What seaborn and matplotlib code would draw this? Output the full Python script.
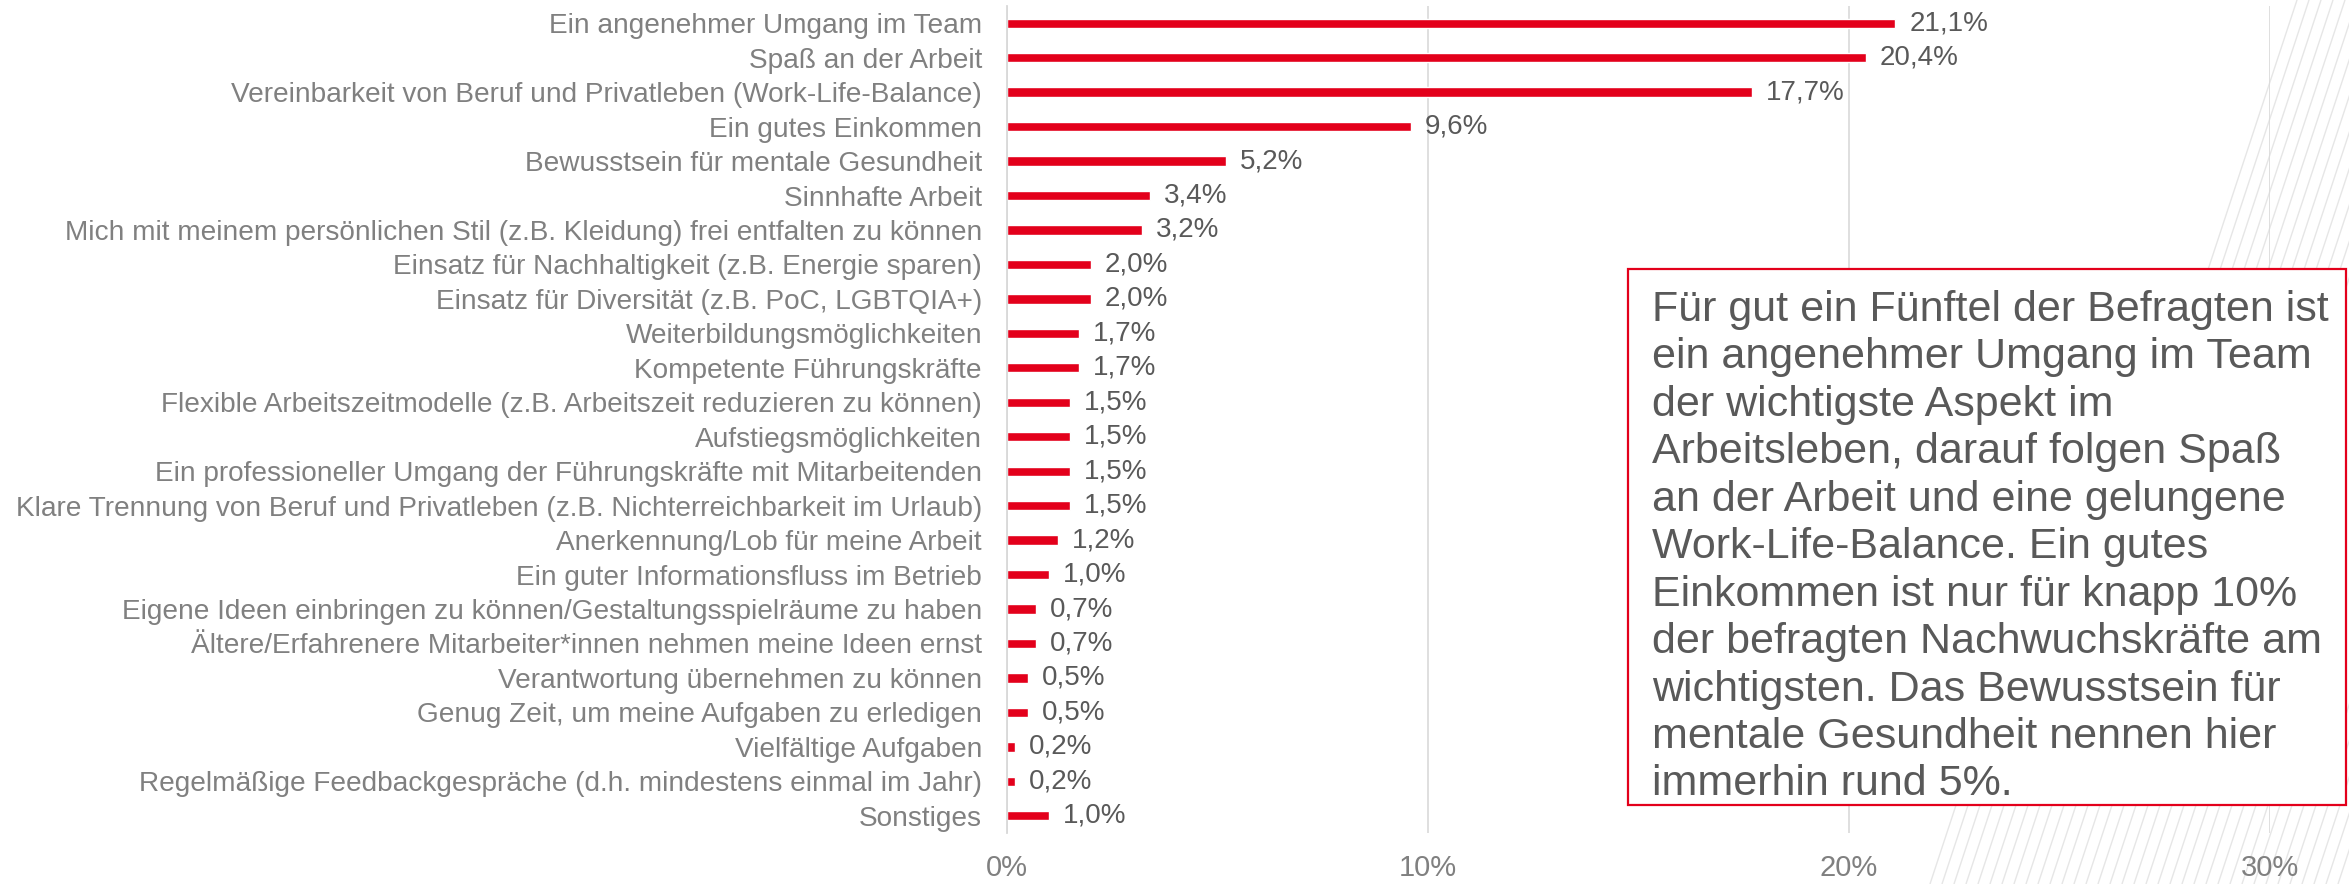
import pandas as pd
import matplotlib.pyplot as plt
import seaborn as sns
from matplotlib.lines import Line2D
from matplotlib.patches import Rectangle

# Data
categories = [
    'Ein angenehmer Umgang im Team',
    'Spaß an der Arbeit',
    'Vereinbarkeit von Beruf und Privatleben (Work-Life-Balance)',
    'Ein gutes Einkommen',
    'Bewusstsein für mentale Gesundheit',
    'Sinnhafte Arbeit',
    'Mich mit meinem persönlichen Stil (z.B. Kleidung) frei entfalten zu können',
    'Einsatz für Nachhaltigkeit (z.B. Energie sparen)',
    'Einsatz für Diversität (z.B. PoC, LGBTQIA+)',
    'Weiterbildungsmöglichkeiten',
    'Kompetente Führungskräfte',
    'Flexible Arbeitszeitmodelle (z.B. Arbeitszeit reduzieren zu können)',
    'Aufstiegsmöglichkeiten',
    'Ein professioneller Umgang der Führungskräfte mit Mitarbeitenden',
    'Klare Trennung von Beruf und Privatleben (z.B. Nichterreichbarkeit im Urlaub)',
    'Anerkennung/Lob für meine Arbeit',
    'Ein guter Informationsfluss im Betrieb',
    'Eigene Ideen einbringen zu können/Gestaltungsspielräume zu haben',
    'Ältere/Erfahrenere Mitarbeiter*innen nehmen meine Ideen ernst',
    'Verantwortung übernehmen zu können',
    'Genug Zeit, um meine Aufgaben zu erledigen',
    'Vielfältige Aufgaben',
    'Regelmäßige Feedbackgespräche (d.h. mindestens einmal im Jahr)',
    'Sonstiges',
]
values = [21.1, 20.4, 17.7, 9.6, 5.2, 3.4, 3.2, 2.0, 2.0, 1.7, 1.7, 1.5, 1.5,
          1.5, 1.5, 1.2, 1.0, 0.7, 0.7, 0.5, 0.5, 0.2, 0.2, 1.0]
x_ticks = [0, 10, 20, 30]
x_ticklabels = ['0%', '10%', '20%', '30%']
note = ('Für gut ein Fünftel der Befragten ist\n'
        'ein angenehmer Umgang im Team\n'
        'der wichtigste Aspekt im\n'
        'Arbeitsleben, darauf folgen Spaß\n'
        'an der Arbeit und eine gelungene\n'
        'Work-Life-Balance. Ein gutes\n'
        'Einkommen ist nur für knapp 10%\n'
        'der befragten Nachwuchskräfte am\n'
        'wichtigsten. Das Bewusstsein für\n'
        'mentale Gesundheit nennen hier\n'
        'immerhin rund 5%.')

df = pd.DataFrame({'aspekt': categories, 'anteil': values})

RED = '#E3001B'
W, H = 2349, 884

sns.set_style('white')
plt.rcParams['font.family'] = ['Liberation Sans', 'DejaVu Sans']

fig = plt.figure(figsize=(W / 100, H / 100), dpi=100)
ax = fig.add_axes([1007 / W, 1 - 833 / H, (2270 - 1007) / W, (833 - 6) / H])
ax.patch.set_alpha(0)

# decorative diagonal stripes in the background (pixel coords -> figure fraction)
slope = 0.33
for b in range(1930, 2360, 12):
    xs = [b, b + (884 - 700) * slope]
    ys = [884, 700]
    fig.add_artist(Line2D([x / W for x in xs], [1 - y / H for y in ys],
                          color='#E6E6E6', lw=1.0, zorder=0))
for t in range(2297, 2450, 12):
    xs = [t, t - 320 * slope]
    ys = [0, 320]
    fig.add_artist(Line2D([x / W for x in xs], [1 - y / H for y in ys],
                          color='#E6E6E6', lw=1.0, zorder=0))

sns.barplot(data=df, x='anteil', y='aspekt', orient='h', color=RED,
            saturation=1, width=0.27, ax=ax, zorder=2)

ax.set_xlim(0, 30)
ax.set_xticks(x_ticks)
ax.set_xticklabels(x_ticklabels)
ax.xaxis.grid(True, color='#D9D9D9', lw=1.2, zorder=0)
ax.set_axisbelow(True)
ax.set_xlabel('')
ax.set_ylabel('')
for s in ['top', 'right', 'bottom']:
    ax.spines[s].set_visible(False)
ax.spines['left'].set_color('#D9D9D9')
ax.spines['left'].set_linewidth(1.3)
ax.tick_params(axis='y', length=0, pad=18, labelsize=20.2, labelcolor='#808080')
ax.tick_params(axis='x', length=0, pad=15, labelsize=21, labelcolor='#808080')

value_labels = [f'{v:.1f}%'.replace('.', ',') for v in values]
ax.bar_label(ax.containers[0], labels=value_labels, padding=10,
             fontsize=20, color='#595959')

# text box
fig.add_artist(Rectangle((1628 / W, 1 - 805 / H), (2346 - 1628) / W, (805 - 269) / H,
                         transform=fig.transFigure, facecolor='white',
                         edgecolor=RED, lw=1.6, zorder=3))
fig.text(1652 / W, 1 - 290 / H, note, ha='left', va='top', fontsize=31,
         color='#595959', linespacing=1.24, zorder=4)

fig.savefig('out.png', dpi=100)
